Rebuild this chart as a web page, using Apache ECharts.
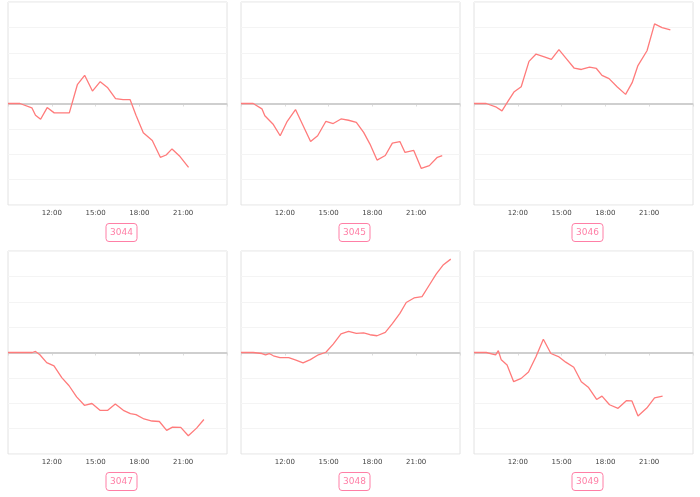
<!DOCTYPE html>
<html>
<head>
<meta charset="utf-8">
<script src="https://cdn.jsdelivr.net/npm/echarts@6/dist/echarts.min.js"></script>
<style>
html,body{margin:0;padding:0;background:#fff;}
#chart{width:700px;height:497px;}
</style>
</head>
<body>
<div id="chart"></div>
<script>
// ---- data ----
const names = ['3044', '3045', '3046', '3047', '3048', '3049'];

const times3044 = ['09:00','09:49','10:38','10:53','11:14','11:41','12:10','13:12','13:45','14:15','14:47','15:19','15:50','16:22','16:53','17:22','17:46','18:16','18:53','19:26','19:50','20:14','20:47','21:22'];
const vals3044 = [0, 0, -0.17, -0.46, -0.62, -0.16, -0.37, -0.37, 0.74, 1.11, 0.49, 0.86, 0.62, 0.19, 0.15, 0.15, -0.46, -1.15, -1.46, -2.12, -2.03, -1.79, -2.09, -2.52];

const times3045 = ['09:00','09:50','10:26','10:38','11:13','11:41','12:10','12:44','13:15','13:46','14:15','14:49','15:19','15:51','16:22','16:54','17:24','17:50','18:19','18:53','19:22','19:53','20:14','20:50','21:21','21:54','22:27','22:47'];
const vals3045 = [0, 0, -0.21, -0.48, -0.83, -1.27, -0.70, -0.24, -0.87, -1.50, -1.27, -0.70, -0.79, -0.61, -0.66, -0.74, -1.14, -1.60, -2.23, -2.05, -1.56, -1.50, -1.93, -1.85, -2.56, -2.45, -2.12, -2.05];

const times3046 = ['09:00','09:50','10:29','10:55','11:20','11:44','12:14','12:46','13:15','13:46','14:18','14:49','15:21','15:52','16:21','16:55','17:23','17:46','18:15','18:49','19:23','19:50','20:13','20:51','21:22','21:53','22:27'];
const vals3046 = [0, 0, -0.13, -0.29, 0.09, 0.45, 0.66, 1.66, 1.95, 1.85, 1.74, 2.12, 1.75, 1.39, 1.34, 1.43, 1.38, 1.11, 0.98, 0.65, 0.36, 0.82, 1.48, 2.08, 3.14, 2.99, 2.90];

const times3047 = ['09:00','10:40','10:53','11:11','11:39','12:09','12:41','13:11','13:42','14:14','14:45','15:18','15:50','16:21','16:54','17:23','17:46','18:19','18:52','19:22','19:52','20:16','20:50','21:21','21:55','22:25'];
const vals3047 = [0, 0, 0.04, -0.09, -0.40, -0.53, -0.99, -1.31, -1.75, -2.08, -2.01, -2.28, -2.28, -2.03, -2.28, -2.41, -2.45, -2.62, -2.70, -2.72, -3.07, -2.94, -2.95, -3.28, -2.98, -2.64];

const times3048 = ['09:00','09:50','10:26','10:41','10:56','11:13','11:40','12:16','12:43','13:15','13:45','14:18','14:49','15:19','15:51','16:22','16:54','17:24','17:50','18:19','18:53','19:22','19:53','20:19','20:51','21:24','21:54','22:22','22:52','23:22'];
const vals3048 = [0, 0, -0.04, -0.09, -0.04, -0.13, -0.20, -0.20, -0.29, -0.41, -0.28, -0.09, 0.01, 0.33, 0.73, 0.83, 0.75, 0.77, 0.70, 0.66, 0.79, 1.14, 1.54, 1.97, 2.15, 2.20, 2.66, 3.09, 3.46, 3.68];

const times3049 = ['09:00','09:50','10:29','10:40','10:52','11:16','11:43','12:14','12:44','13:15','13:45','14:16','14:47','15:17','15:50','16:21','16:51','17:24','17:46','18:17','18:52','19:26','19:49','20:14','20:50','21:22','21:55'];
const vals3049 = [0, 0, -0.09, 0.07, -0.29, -0.49, -1.15, -1.02, -0.77, -0.16, 0.52, -0.04, -0.16, -0.38, -0.58, -1.15, -1.38, -1.85, -1.72, -2.06, -2.20, -1.90, -1.91, -2.50, -2.19, -1.79, -1.72];

const xTickHours = [12, 15, 18, 21];

const panelTimes = [times3044, times3045, times3046, times3047, times3048, times3049];
const panelVals = [vals3044, vals3045, vals3046, vals3047, vals3048, vals3049];

// ---- build ----
function toHours(t) { const p = t.split(':'); return +p[0] + (+p[1]) / 60; }

const FONT = 'DejaVu Sans';
const LINE = '#ff7b7b';
const PINK = '#ff7fa6';

const cellLeft = [8, 241, 474];
const gridW = 219;
const rowTop = [2, 251];
const gridH = 203;

const grids = [], xAxes = [], yAxes = [], series = [], titles = [];
for (let i = 0; i < 6; i++) {
  const r = Math.floor(i / 3), c = i % 3;
  grids.push({ left: cellLeft[c], top: rowTop[r], width: gridW, height: gridH,
    show: true, borderColor: '#e2e2e2', borderWidth: 1, backgroundColor: 'transparent' });
  xAxes.push({ type: 'value', gridIndex: i, min: 9, max: 24, interval: 3,
    axisLine: { show: false },
    axisTick: { show: true, length: 3, lineStyle: { color: '#ddd' } },
    splitLine: { show: false },
    axisLabel: { fontFamily: FONT, fontSize: 7, color: '#444', margin: 5,
      formatter: function (v) { return xTickHours.indexOf(v) >= 0 ? v + ':00' : ''; } } });
  yAxes.push({ type: 'value', gridIndex: i, min: -4, max: 4, interval: 1,
    axisLine: { show: false }, axisTick: { show: false }, axisLabel: { show: false },
    splitLine: { show: true, lineStyle: { color: '#f4f4f4', width: 1 } } });
  const data = panelTimes[i].map(function (t, k) { return [toHours(t), panelVals[i][k]]; });
  series.push({ type: 'line', xAxisIndex: i, yAxisIndex: i, data: data, z: 3,
    showSymbol: false, symbol: 'none', animation: false,
    lineStyle: { color: LINE, width: 1.3 },
    markLine: { silent: true, z: 1, symbol: ['none', 'none'], label: { show: false },
      lineStyle: { color: '#cfcfcf', width: 2, type: 'solid' },
      data: [{ yAxis: 0 }] } });
  titles.push({ text: names[i], left: cellLeft[c] + gridW / 2, top: rowTop[r] + 221, textAlign: 'center',
    padding: [5, 4], borderColor: PINK, borderWidth: 1, borderRadius: 3,
    textStyle: { fontFamily: FONT, fontSize: 9, fontWeight: 'normal', color: PINK } });
}

const chart = echarts.init(document.getElementById('chart'), null, { renderer: 'canvas' });
chart.setOption({
  animation: false,
  title: titles,
  grid: grids,
  xAxis: xAxes,
  yAxis: yAxes,
  series: series
});
</script>
</body>
</html>
